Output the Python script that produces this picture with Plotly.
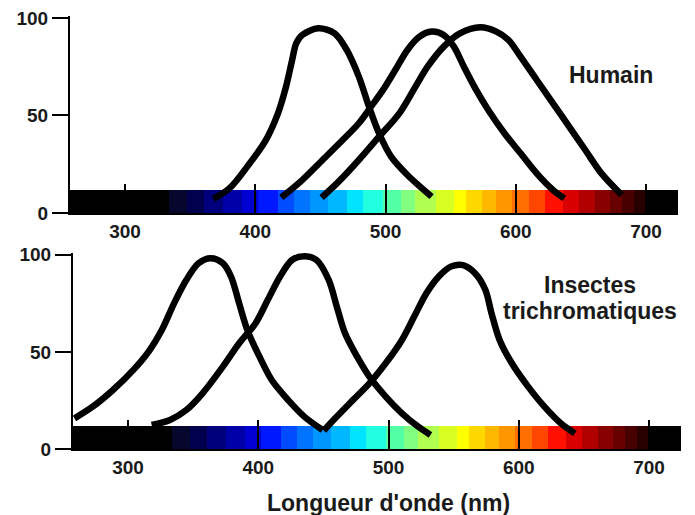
import plotly.graph_objects as go

# ---------------- data ----------------
tick_vals_x = [300, 400, 500, 600, 700]
tick_vals_y = [0, 50, 100]

# spectrum bar segments (edges in nm) and colours
spec_edges = [257.7, 333.5, 347.5, 360.9, 375.5, 389.4, 401.9, 417.4, 429.8, 442.2, 456.2,
              470.2, 482.6, 498.1, 512.1, 523.0, 538.5, 552.5, 561.8, 574.2, 585.1,
              597.5, 609.9, 622.4, 636.3, 648.8, 661.2, 672.0, 681.4, 690.7, 700.0, 724.6]
spec_colors = ["#000000", "#07072e", "#00004e", "#00007c", "#0000a8", "#0000d2",
               "#0018ff", "#004cff", "#0074ff", "#0096ff", "#00b8ff", "#00e4ff",
               "#22ffe0", "#52ffa4", "#80ff80", "#b0ff50", "#d8ff22", "#ffff00",
               "#ffd800", "#ffb800", "#ff9600", "#ff6e00", "#ff4600", "#ff1000",
               "#d80000", "#b00000", "#880000", "#680000", "#480000", "#280000", "#000000"]
bar_height = 12

# Human cones
hum_s_nm = [367.7, 380.1, 395.7, 408.1, 417.4, 423.6, 428.3, 431.4, 436.0, 448.4, 460.9,
            470.2, 479.5, 487.3, 495.0, 504.3, 516.8, 535.4]
hum_s_val = [7.2, 12.6, 25.5, 37.4, 51.1, 64.8, 78.5, 87.0, 91.3, 94.7, 92.1,
             83.6, 69.9, 54.5, 40.9, 28.9, 19.5, 8.4]
hum_m_nm = [419.9, 436.0, 451.6, 467.1, 479.5, 488.8, 498.1, 507.5, 516.8, 526.1, 535.4,
            544.7, 552.5, 560.2, 569.6, 578.9, 591.3, 603.7, 616.1, 628.6, 637.3]
hum_m_val = [7.9, 16.9, 27.2, 37.4, 46.0, 54.5, 63.1, 73.3, 83.6, 90.4, 93.0,
             91.3, 85.3, 75.0, 63.1, 52.8, 40.9, 30.6, 20.3, 11.8, 7.5]
hum_l_nm = [450.9, 464.0, 479.5, 495.0, 510.6, 523.0, 532.3, 544.7, 557.1, 572.7, 585.1,
            594.4, 603.7, 616.1, 628.6, 641.0, 653.4, 665.8, 681.4]
hum_l_val = [7.9, 16.1, 27.2, 39.1, 51.1, 64.8, 75.0, 85.3, 92.1, 95.2, 93.0,
             88.7, 80.2, 68.2, 56.2, 44.3, 32.3, 20.3, 9.2]

# Trichromatic insects
ins_uv_nm = [258.8, 272.8, 288.4, 304.1, 316.6, 325.9, 335.3, 344.7, 354.1, 363.4, 372.8,
             379.1, 385.3, 391.6, 400.9, 410.3, 422.8, 435.3, 449.4]
ins_uv_val = [15.9, 21.9, 30.5, 40.8, 51.0, 61.3, 75.0, 87.0, 95.6, 98.2, 95.6,
              88.7, 75.0, 61.3, 47.6, 35.6, 25.4, 16.8, 9.9]
ins_b_nm = [318.1, 332.2, 344.7, 357.2, 372.8, 385.3, 397.8, 407.2, 416.6, 425.9, 435.3,
            444.7, 454.1, 460.3, 466.6, 475.9, 485.3, 497.8, 510.3, 522.8, 532.2]
ins_b_val = [12.5, 15.1, 20.2, 28.8, 42.5, 54.5, 64.7, 76.7, 88.7, 97.3, 99.2,
             97.3, 87.0, 73.3, 59.6, 47.6, 37.3, 27.1, 18.5, 11.6, 7.4]
ins_g_nm = [450.3, 460.3, 472.8, 485.3, 497.8, 510.3, 519.7, 529.1, 538.4, 547.8, 557.2,
            566.6, 574.4, 579.1, 585.3, 594.7, 607.2, 619.7, 632.2, 643.1]
ins_g_val = [9.6, 16.8, 25.4, 33.9, 44.2, 56.2, 68.2, 80.2, 88.7, 93.9, 94.7,
             90.4, 81.9, 69.9, 56.2, 44.2, 32.2, 21.9, 13.4, 8.2]

label_top = "Humain"
label_bottom_lines = ["Insectes", "trichromatiques"]
x_title = "Longueur d'onde (nm)"

# ---------------- figure ----------------
W, H = 695, 515
OFF = 8  # page body margin compensation (px)
FONT = "Liberation Sans, Arial, sans-serif"
TXT = "#1a1a1a"

seg_centers = [(a + b) / 2 for a, b in zip(spec_edges[:-1], spec_edges[1:])]
seg_widths = [(b - a) for a, b in zip(spec_edges[:-1], spec_edges[1:])]

fig = go.Figure()

def add_panel(xa, ya, curves):
    fig.add_trace(go.Bar(x=seg_centers, y=[bar_height] * len(seg_centers), width=seg_widths,
                         marker=dict(color=spec_colors, line=dict(width=0)),
                         xaxis=xa, yaxis=ya, showlegend=False, hoverinfo="skip"))
    for nm, val in curves:
        fig.add_trace(go.Scatter(x=nm, y=val, mode="lines",
                                 line=dict(color="black", width=6.5, shape="spline", smoothing=0.9),
                                 xaxis=xa, yaxis=ya, showlegend=False, hoverinfo="skip"))

add_panel("x", "y", [(hum_s_nm, hum_s_val), (hum_m_nm, hum_m_val), (hum_l_nm, hum_l_val)])
add_panel("x2", "y2", [(ins_uv_nm, ins_uv_val), (ins_b_nm, ins_b_val), (ins_g_nm, ins_g_val)])

def px_x(p):
    return (p - OFF) / W

def px_y(p):
    return 1 - (p - OFF) / H

xaxis_common = dict(range=[spec_edges[0], spec_edges[-1]], tickvals=tick_vals_x,
                    ticks="inside", ticklen=29, tickwidth=2, tickcolor="black",
                    showline=True, linewidth=2, linecolor="black", automargin=False,
                    showgrid=False, zeroline=False, layer="above traces",
                    ticklabeloverflow="allow",
                    tickfont=dict(family=FONT, size=19, color=TXT, weight="bold"))
yaxis_common = dict(range=[0, 101], tickvals=tick_vals_y,
                    ticks="outside", ticklen=16, tickwidth=2, tickcolor="black",
                    showline=True, linewidth=2, linecolor="black", automargin=False,
                    showgrid=False, zeroline=False, ticklabeloverflow="allow",
                    tickfont=dict(family=FONT, size=19, color=TXT, weight="bold"))

ann_font = dict(family=FONT, size=23, color=TXT, weight="bold")

fig.update_layout(
    template="none",
    width=W, height=H, autosize=False,
    margin=dict(l=0, r=0, t=0, b=0, pad=0),
    paper_bgcolor="white", plot_bgcolor="white",
    bargap=0,
    xaxis=dict(domain=[px_x(70), px_x(678)], anchor="y", **xaxis_common),
    yaxis=dict(domain=[px_y(213), px_y(16)], anchor="x", **yaxis_common),
    xaxis2=dict(domain=[px_x(73), px_x(681)], anchor="y2", **xaxis_common),
    yaxis2=dict(domain=[px_y(449.3), px_y(252.8)], anchor="x2", **yaxis_common),
    annotations=[
        dict(text=label_top, x=673.5, y=71.0, xref="x", yref="y", showarrow=False,
             xanchor="center", yanchor="middle", font=ann_font),
        dict(text=label_bottom_lines[0], x=654.6, y=84.5, xref="x2", yref="y2", showarrow=False,
             xanchor="center", yanchor="middle", font=ann_font),
        dict(text=label_bottom_lines[1], x=654.8, y=71.0, xref="x2", yref="y2", showarrow=False,
             xanchor="center", yanchor="middle", font=ann_font),
        dict(text=x_title, x=px_x(389), y=px_y(503), xref="paper", yref="paper",
             showarrow=False, xanchor="center", yanchor="middle", font=ann_font),
    ],
)

fig.write_html("out.html")
